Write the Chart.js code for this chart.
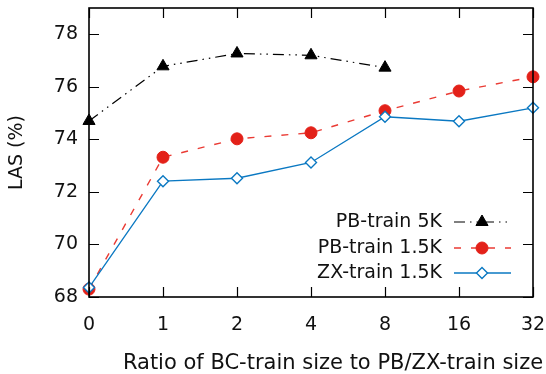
<!DOCTYPE html>
<html lang="en">
<head>
    <meta charset="UTF-8">
    <title>LAS vs ratio</title>
    <script src="https://cdn.jsdelivr.net/npm/chart.js"></script>
    <style>
        html, body { margin: 0; padding: 0; background: #ffffff; }
        #wrap { width: 546px; height: 374px; position: relative; }
    </style>
</head>
<body>
    <div id="wrap"><canvas id="lasChart" width="546" height="374"></canvas></div>

    <script>
        // data
        const ratios = ['0', '1', '2', '4', '8', '16', '32'];
        const pb5k = [74.7, 76.78, 77.27, 77.2, 76.73];
        const pb15k = [68.3, 73.32, 74.02, 74.25, 75.09, 75.84, 76.38];
        const zx15k = [68.36, 72.41, 72.52, 73.12, 74.86, 74.69, 75.2];
        const yTicks = [68, 70, 72, 74, 76, 78];
        const xTitle = 'Ratio of BC-train size to PB/ZX-train size';

        const FONT = 'DejaVu Sans';

        // frame + inward ticks on all four sides
        const framePlugin = {
            id: 'frame',
            afterDatasetsDraw(chart) {
                const { ctx, chartArea: a, scales } = chart;
                const len = 10;
                ctx.save();
                ctx.strokeStyle = '#000';
                ctx.lineWidth = 1.2;
                ctx.beginPath();
                scales.x.ticks.forEach((t, i) => {
                    const x = Math.round(scales.x.getPixelForTick(i)) + 0.5;
                    ctx.moveTo(x, a.bottom); ctx.lineTo(x, a.bottom - len);
                    ctx.moveTo(x, a.top); ctx.lineTo(x, a.top + len);
                });
                yTicks.forEach(v => {
                    const y = Math.round(scales.y.getPixelForValue(v)) + 0.5;
                    ctx.moveTo(a.left, y); ctx.lineTo(a.left + len, y);
                    ctx.moveTo(a.right, y); ctx.lineTo(a.right - len, y);
                });
                ctx.stroke();
                ctx.lineWidth = 1.6;
                ctx.strokeRect(a.left, a.top, a.right - a.left, a.bottom - a.top);

                // x axis title, a bit right of the plot centre like the original
                ctx.font = '21px ' + FONT;
                ctx.fillStyle = '#111';
                ctx.textAlign = 'center';
                ctx.textBaseline = 'middle';
                ctx.fillText(xTitle, (a.left + a.right) / 2 + 22, a.bottom + 67);
                ctx.restore();
            }
        };

        // gnuplot style key: text right aligned, sample to the right
        function drawKey(chart) {
            const { ctx, chartArea: a } = chart;
            const textRight = a.right - 91;
            const x0 = a.right - 79, x1 = a.right - 22, xm = a.right - 51;
            const rows = [a.bottom - 75, a.bottom - 49, a.bottom - 24];
            ctx.save();
            ctx.font = '19px ' + FONT;
            ctx.textAlign = 'right';
            ctx.textBaseline = 'middle';
            chart.data.datasets.forEach((ds, i) => {
                const y = rows[i];
                ctx.fillStyle = '#111';
                ctx.fillText(ds.label, textRight, y);
                ctx.strokeStyle = ds.borderColor;
                ctx.lineWidth = ds.borderWidth;
                ctx.setLineDash(ds.borderDash || []);
                ctx.beginPath();
                ctx.moveTo(x0, y); ctx.lineTo(x1, y);
                ctx.stroke();
                ctx.setLineDash([]);
                ctx.fillStyle = ds.pointBackgroundColor;
                ctx.strokeStyle = ds.pointBorderColor;
                ctx.lineWidth = ds.pointBorderWidth;
                Chart.helpers.drawPoint(ctx, {
                    pointStyle: ds.pointStyle,
                    radius: ds.pointRadius,
                    rotation: 0,
                    borderWidth: ds.pointBorderWidth
                }, xm, y);
            });
            ctx.restore();
        }

        const ctx = document.getElementById('lasChart').getContext('2d');
        new Chart(ctx, {
            type: 'line',
            data: {
                labels: ratios,
                datasets: [
                    {
                        label: 'PB-train 5K',
                        data: pb5k,
                        borderColor: '#000000',
                        borderWidth: 1.2,
                        borderDash: [11, 5, 1.5, 5, 1.5, 5],
                        pointStyle: 'triangle',
                        pointRadius: 7,
                        pointBackgroundColor: '#000000',
                        pointBorderColor: '#000000',
                        pointBorderWidth: 1,
                        order: 2
                    },
                    {
                        label: 'PB-train 1.5K',
                        data: pb15k,
                        borderColor: '#ea3b34',
                        borderWidth: 1.4,
                        borderDash: [7, 10],
                        pointStyle: 'circle',
                        pointRadius: 6,
                        pointBackgroundColor: '#e32119',
                        pointBorderColor: '#e32119',
                        pointBorderWidth: 1,
                        order: 1
                    },
                    {
                        label: 'ZX-train 1.5K',
                        data: zx15k,
                        borderColor: '#0a78c2',
                        borderWidth: 1.3,
                        borderDash: [],
                        pointStyle: 'rectRot',
                        pointRadius: 5.5,
                        pointBackgroundColor: '#ffffff',
                        pointBorderColor: '#0a78c2',
                        pointBorderWidth: 1.4,
                        order: 0
                    }
                ]
            },
            options: {
                responsive: false,
                animation: false,
                layout: { padding: { top: 8, right: 13, left: 0, bottom: 0 } },
                plugins: {
                    legend: { display: false },
                    tooltip: { enabled: false }
                },
                elements: { line: { tension: 0 } },
                scales: {
                    x: {
                        type: 'category',
                        offset: false,
                        grid: { display: false, drawTicks: false },
                        border: { display: false },
                        ticks: {
                            color: '#111',
                            font: { family: FONT, size: 19 },
                            padding: 17,
                            maxRotation: 0,
                            autoSkip: false
                        },
                        afterFit(scale) {
                            scale.height = 77;
                            scale.paddingLeft = 0;
                            scale.paddingRight = 0;
                        }
                    },
                    y: {
                        min: 68,
                        max: 79,
                        grid: { display: false, drawTicks: false },
                        border: { display: false },
                        afterBuildTicks(scale) {
                            scale.ticks = yTicks.map(v => ({ value: v }));
                        },
                        ticks: {
                            color: '#111',
                            font: { family: FONT, size: 19 },
                            padding: 11
                        },
                        title: {
                            display: true,
                            text: 'LAS (%)',
                            color: '#111',
                            font: { family: FONT, size: 19 },
                            padding: { top: 6, bottom: 0 }
                        },
                        afterFit(scale) {
                            scale.width = 89;
                            scale.paddingTop = 0;
                            scale.paddingBottom = 0;
                        }
                    }
                }
            },
            plugins: [framePlugin, { id: 'gkey', afterDraw: drawKey }]
        });
    </script>
</body>
</html>
